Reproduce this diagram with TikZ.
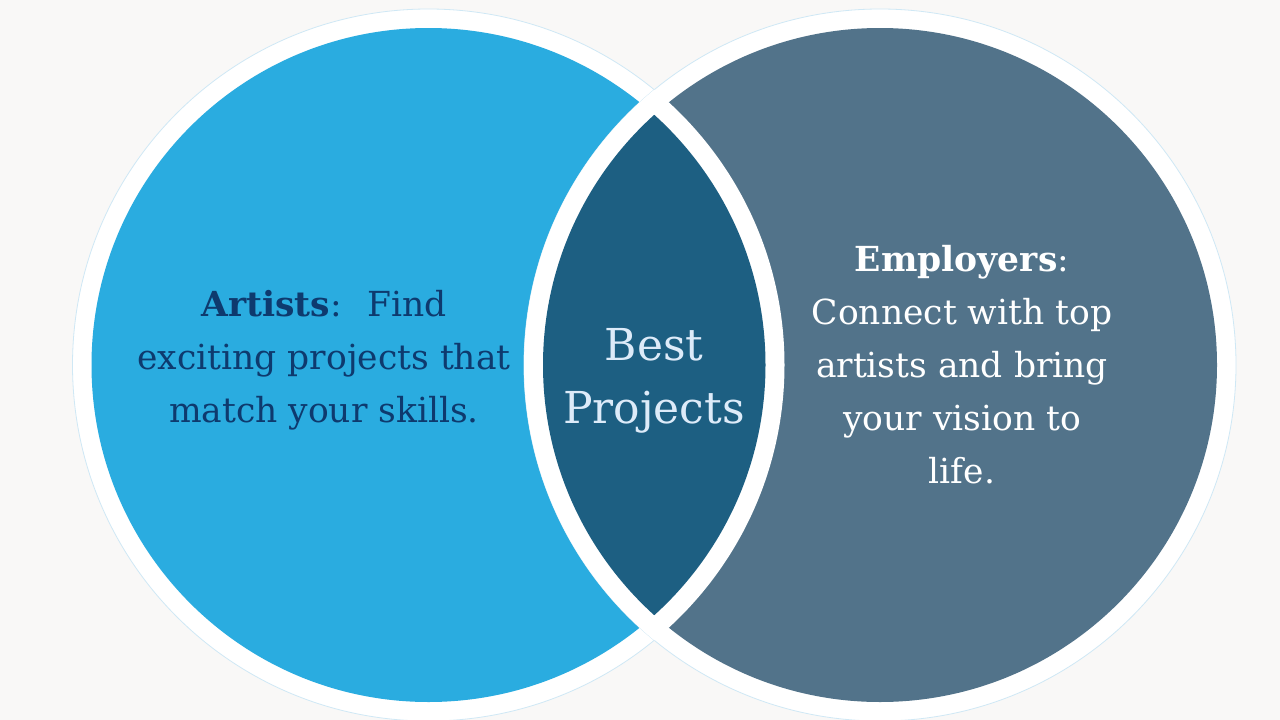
\documentclass[tikz,border=0pt]{standalone}
\usepackage{fontspec}
\setmainfont{DejaVu Serif}
\definecolor{bg}{HTML}{F9F8F7}
\definecolor{leftfill}{HTML}{2AACE0}
\definecolor{rightfill}{HTML}{52738A}
\definecolor{lensfill}{HTML}{1D5F82}
\definecolor{lefttext}{HTML}{0E3A6E}
\definecolor{lenstext}{HTML}{DDEBF9}
\definecolor{rimline}{HTML}{CFE8F5}
\tikzset{
  rim/.style={fill=white, draw=rimline, line width=0.8pt},
  bodytext/.style={align=center, inner sep=0pt, font=\fontsize{34.5}{53}\selectfont},
  lenslabel/.style={align=center, inner sep=0pt, text=lenstext, font=\fontsize{44}{63}\selectfont}
}
\begin{document}
\begin{tikzpicture}[x=1pt,y=-1pt]
\fill[bg] (0,0) rectangle (1280,720);
\useasboundingbox (0,0) rectangle (1280,720);
\coordinate (L) at (428.5,365);
\coordinate (R) at (880,365);
% left circle
\path[rim] (L) circle[radius=356];
\fill[leftfill] (L) circle[radius=337];
% right circle
\path[rim] (R) circle[radius=356];
\fill[rightfill] (R) circle[radius=337];
% lens border
\begin{scope}
  \clip (L) circle[radius=356];
  \fill[white] (R) circle[radius=356];
\end{scope}
% lens
\begin{scope}
  \clip (L) circle[radius=337];
  \fill[lensfill] (R) circle[radius=337];
\end{scope}
% texts
\node[bodytext, text=lefttext] (artists) at (324,360)
  {\textbf{Artists}:~ Find\\exciting projects that\\match your skills.};
\node[bodytext, text=white] (employers) at (962,365)
  {\textbf{Employers}:\\Connect with top\\artists and bring\\your vision to\\life.};
\node[lenslabel] (best) at (654,381) {Best\\Projects};
\end{tikzpicture}
\end{document}
